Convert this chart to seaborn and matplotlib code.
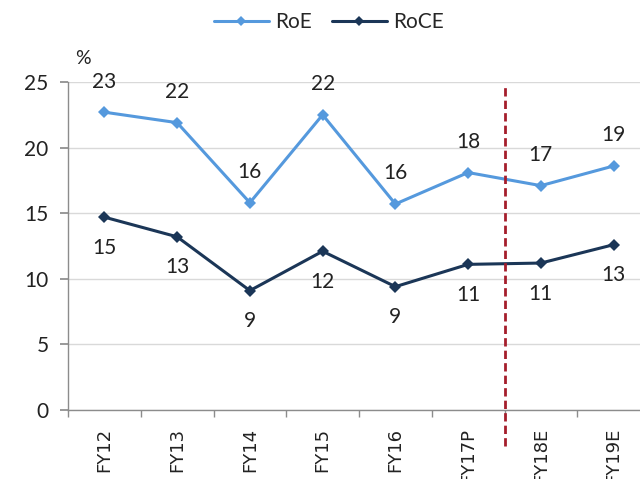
import seaborn as sns
import pandas as pd
import matplotlib.pyplot as plt
from matplotlib.lines import Line2D

years = ["FY12", "FY13", "FY14", "FY15", "FY16", "FY17P", "FY18E", "FY19E"]
roe = [22.7, 21.9, 15.8, 22.5, 15.7, 18.1, 17.1, 18.6]
roce = [14.7, 13.2, 9.1, 12.1, 9.4, 11.1, 11.2, 12.6]
series_names = ["RoE", "RoCE"]
yticks = [0, 5, 10, 15, 20, 25]

data = pd.DataFrame({
    "Year": years * 2,
    "Value": roe + roce,
    "Type": [series_names[0]] * len(years) + [series_names[1]] * len(years),
})

palette = ["#5599DD", "#1B3657"]
red = "#A51E2C"
grey = "#8C8C8C"
txt = "#222222"

sns.set_theme(style="white")
plt.rcParams["font.family"] = ["Lato", "DejaVu Sans"]

fig = plt.figure(figsize=(6.4, 4.79), dpi=100)
ax = fig.add_axes([68 / 640, 69 / 479, 582 / 640, 328 / 479])

sns.lineplot(data=data, x="Year", y="Value", hue="Type", palette=palette, sort=False,
             marker="D", markersize=6, markeredgewidth=0, linewidth=2.2, ax=ax,
             legend=False)

ax.set_xlim(-0.5, len(years) - 0.5)
ax.set_ylim(0, 25)
ax.set_yticks(yticks)
ax.yaxis.grid(True, color="#D9D9D9", linewidth=1)
ax.set_axisbelow(True)
ax.set_xlabel("")
ax.set_ylabel("")

for s in ["top", "right"]:
    ax.spines[s].set_visible(False)
for s in ["left", "bottom"]:
    ax.spines[s].set_color(grey)
    ax.spines[s].set_linewidth(1)

# ticks between categories, labels on categories
ax.set_xticks(range(len(years)))
ax.set_xticklabels(years, rotation=90, fontsize=13, color=txt,
                   family=["DejaVu Sans"])
ax.set_xticks([i - 0.5 for i in range(len(years) + 1)], minor=True)
ax.tick_params(axis="x", which="major", length=0, pad=13)
ax.tick_params(axis="x", which="minor", length=5, color=grey, direction="out", bottom=True)
ax.tick_params(axis="y", length=6, color=grey, direction="out", left=True,
               labelsize=15, labelcolor=txt, pad=8)

# value labels
for i, v in enumerate(roe):
    ax.annotate(f"{v:.0f}", (i, v), xytext=(0, 22), textcoords="offset points",
                ha="center", va="center", fontsize=15, color=txt, annotation_clip=False)
for i, v in enumerate(roce):
    ax.annotate(f"{v:.0f}", (i, v), xytext=(0, -22), textcoords="offset points",
                ha="center", va="center", fontsize=15, color=txt, annotation_clip=False)

# forecast divider
ax.axvline(5.5, ymin=-0.11, ymax=0.99, color=red, linestyle=(0, (3, 1.5)),
           linewidth=2, clip_on=False, zorder=5)

ax.text(0.026, 1.073, "%", transform=ax.transAxes, ha="center", va="center",
        fontsize=14, color=txt)

handles = [Line2D([], [], color=c, marker="D", markersize=5, markeredgewidth=0,
                  linewidth=2.2) for c in palette]
fig.legend(handles, series_names, loc="center", bbox_to_anchor=(0.514, 0.954), ncol=2,
           frameon=False, fontsize=15, handlelength=2.6, columnspacing=1.0,
           handletextpad=0.3)

plt.savefig("out.png", dpi=100)
